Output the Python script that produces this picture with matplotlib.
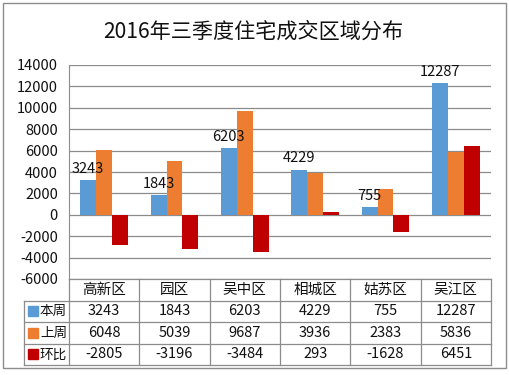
import numpy as np
import matplotlib.pyplot as plt
from matplotlib.patches import Rectangle

plt.rcParams['font.family'] = ['Noto Sans CJK SC', 'DejaVu Sans']

# 数据
regions = ["高新区", "园区", "吴中区", "相城区", "姑苏区", "吴江区"]
this_week = [3243, 1843, 6203, 4229, 755, 12287]
last_week = [6048, 5039, 9687, 3936, 2383, 5836]
change = [-2805, -3196, -3484, 293, -1628, 6451]
series_names = ["本周", "上周", "环比"]
colors = ["#5B9BD5", "#ED7D31", "#C00000"]
yticks = np.arange(-6000, 14001, 2000)

W, H = 509, 375
fig = plt.figure(figsize=(W / 100, H / 100), dpi=100)

def px(x0, y0, x1, y1):
    return [x0 / W, 1 - y1 / H, (x1 - x0) / W, (y1 - y0) / H]

# 外框
fig.patches.append(Rectangle((3 / W, 1 - 368 / H), 503 / W, 365 / H,
                             transform=fig.transFigure, fill=False,
                             edgecolor="#8c8c8c", linewidth=1.0))

fig.text(253 / W, 1 - 32 / H, "2016年三季度住宅成交区域分布",
         ha="center", va="center", fontsize=15.2, color="#111111")

ax = fig.add_axes(px(69, 65, 491, 279))
n = len(regions)
x = np.arange(n)
bw = 0.227
data = [this_week, last_week, change]
for i, (vals, c) in enumerate(zip(data, colors)):
    ax.bar(x + (i - 1) * bw, vals, width=bw, color=c, zorder=3)

# 本周 数据标签
for xi, v in zip(x, this_week):
    ax.annotate(str(v), (xi - bw, v), xytext=(0, 3), textcoords="offset points",
                ha="center", va="bottom", fontsize=10.5, color="#111111", zorder=4)

ax.set_xlim(-0.5, n - 0.5)
ax.set_ylim(-6000, 14000)
ax.set_yticks(yticks)
ax.set_yticklabels([str(t) for t in yticks], fontsize=10.5, color="#111111")
ax.tick_params(axis="y", length=0, pad=8)
ax.set_xticks([])
ax.grid(axis="y", color="#8c8c8c", linewidth=0.9, zorder=0)
for s in ["top", "right", "bottom"]:
    ax.spines[s].set_visible(False)
ax.spines["left"].set_color("#8c8c8c")

# 数据表
tx = ax.get_xaxis_transform()
row_h = 0.1005
table_rows = [this_week, last_week, change]
line_kw = dict(color="#8c8c8c", linewidth=0.9, clip_on=False, transform=tx)
unit_px = 422 / n
lab_left = -0.5 - 45 / unit_px
# 竖线
for b in np.arange(-0.5, n + 0.5, 1.0):
    ax.plot([b, b], [0, -4 * row_h], **line_kw)
ax.plot([lab_left, lab_left], [-row_h, -4 * row_h], **line_kw)
# 横线
ax.plot([-0.5, n - 0.5], [0, 0], **line_kw)
for r in range(1, 5):
    ax.plot([lab_left, n - 0.5], [-r * row_h, -r * row_h], **line_kw)
# 表头
for xi, name in zip(x, regions):
    ax.text(xi, -0.5 * row_h, name, transform=tx, ha="center", va="center",
            fontsize=10.5, color="#111111")
# 行
sq_w = 10 / unit_px
sq_h = 10 / 214
for r, (vals, name, c) in enumerate(zip(table_rows, series_names, colors)):
    yc = -(r + 1.5) * row_h
    for xi, v in zip(x, vals):
        ax.text(xi, yc, str(v), transform=tx, ha="center", va="center",
                fontsize=10.5, color="#111111")
    ax.add_patch(Rectangle((lab_left + 4 / unit_px, yc - sq_h / 2), sq_w, sq_h,
                           transform=tx, color=c, clip_on=False))
    ax.text(lab_left + 16 / unit_px, yc, name, transform=tx, ha="left",
            va="center", fontsize=9.8, color="#111111")

fig.savefig("out.png", dpi=100)
